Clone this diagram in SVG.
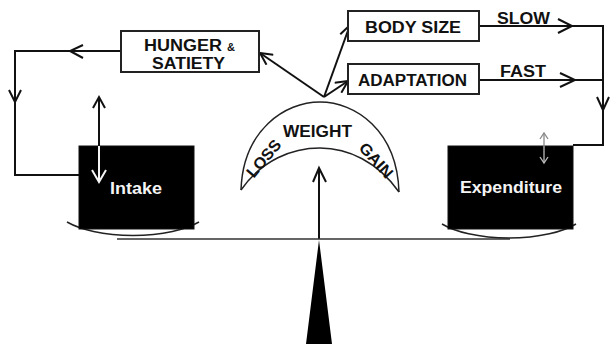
<svg xmlns="http://www.w3.org/2000/svg" width="610" height="344" viewBox="0 0 610 344">
<style>
.ln{fill:none;stroke:#111;stroke-width:2;stroke-linejoin:miter}
.chev{fill:none;stroke:#111;stroke-width:2}
.box{fill:#fff;stroke:#222;stroke-width:2}
.blk{fill:#000;stroke:#111;stroke-width:1}
.lbl{font-family:"Liberation Sans",Arial,sans-serif;font-weight:bold;font-size:16px;fill:#111}
.wt{font-family:"Liberation Sans",Arial,sans-serif;font-weight:bold;font-size:16px;fill:#f4f4f4}
.thin{fill:none;stroke:#222;stroke-width:1.5}
</style>
<defs>
<marker id="ah" viewBox="0 0 14 14" refX="13" refY="7" markerWidth="14" markerHeight="14" markerUnits="userSpaceOnUse" orient="auto">
<path d="M1,1 L13,7 L1,13" fill="none" stroke="#111" stroke-width="2"/>
</marker>
</defs>
<rect width="610" height="344" fill="#fff"/>

<g id="connectors">
<path class="ln" d="M121,51 H15 V175 H79"/>
<path class="chev" d="M83,45 L70,51 L83,58"/>
<path class="chev" d="M9,90 L15,102 L21,90"/>
<path class="ln" d="M324,97 L260,53" marker-end="url(#ah)"/>
<path class="ln" d="M324,97 L350,25" marker-end="url(#ah)"/>
<path class="ln" d="M324,97 L348,81" marker-end="url(#ah)"/>
<path class="ln" d="M479,26 H603 V145 H573"/>
<path class="ln" d="M479,80 H603"/>
<path class="chev" d="M558,19 L572,26 L558,33"/>
<path class="chev" d="M560,73 L575,80 L560,87"/>
<path class="chev" d="M597,97 L603,110 L609,97"/>
<path class="ln" d="M319,239 V169"/>
<path class="chev" d="M313,182 L319,168 L326,182"/>
</g>

<g id="beam">
<path d="M117,239 H510" stroke="#333" stroke-width="1.5" fill="none"/>
<path class="thin" d="M67,222 A80,31 0 0 0 199,222"/>
<path class="thin" d="M442,224 A80,31 0 0 0 576,224"/>
<path d="M319,240 L306,344 L332,344 Z" fill="#000"/>
</g>

<g id="hunger">
<rect class="box" x="121" y="31" width="138" height="41"/>
<text class="lbl" x="144" y="51" textLength="78" lengthAdjust="spacingAndGlyphs">HUNGER</text>
<text class="lbl" x="227" y="51" style="font-size:11px">&amp;</text>
<text class="lbl" x="152" y="69" textLength="73" lengthAdjust="spacingAndGlyphs">SATIETY</text>
</g>

<g id="bodysize">
<rect class="box" x="348" y="11" width="131" height="30"/>
<text class="lbl" x="365" y="33" textLength="96" lengthAdjust="spacingAndGlyphs">BODY SIZE</text>
</g>

<g id="adaptation">
<rect class="box" x="348" y="64" width="131" height="30"/>
<text class="lbl" x="358" y="86" textLength="109" lengthAdjust="spacingAndGlyphs">ADAPTATION</text>
</g>

<g id="slow"><text class="lbl" x="497" y="24" textLength="53" lengthAdjust="spacingAndGlyphs">SLOW</text></g>
<g id="fast"><text class="lbl" x="500" y="77" textLength="46" lengthAdjust="spacingAndGlyphs">FAST</text></g>

<g id="intake">
<rect class="blk" x="79" y="146" width="115" height="83"/>
<path d="M99,97 V146" stroke="#111" stroke-width="2" fill="none"/>
<path class="chev" d="M93,108 L99,97 L105,108"/>
<path d="M99,146 V182" stroke="#f4f4f4" stroke-width="2" fill="none"/>
<path d="M92,170 L99,182 L106,170" stroke="#f4f4f4" stroke-width="2" fill="none"/>
<text class="wt" x="110" y="194" textLength="52" lengthAdjust="spacingAndGlyphs">Intake</text>
</g>

<g id="expenditure">
<rect class="blk" x="448" y="146" width="125" height="83"/>
<path d="M544,133 V146" stroke="#888" stroke-width="1.3" fill="none"/>
<path d="M540,139 L544,133 L548,139" stroke="#888" stroke-width="1.3" fill="none"/>
<path d="M544,146 V163" stroke="#bbb" stroke-width="1.3" fill="none"/>
<path d="M540,157 L544,163 L548,157" stroke="#bbb" stroke-width="1.3" fill="none"/>
<text class="wt" x="460" y="193" textLength="102" lengthAdjust="spacingAndGlyphs">Expenditure</text>
</g>

<g id="weight">
<path class="thin" d="M241,190 C243,130 285,102 320,102 C355,102 397,130 399,192"/>
<path class="thin" d="M241,190 C262,160 292,148 320,148 C348,148 378,162 399,192"/>
<text class="lbl" x="283" y="137" textLength="69" lengthAdjust="spacingAndGlyphs">WEIGHT</text>
<text class="lbl" x="0" y="0" text-anchor="middle" transform="translate(268,162) rotate(-50)" textLength="44" lengthAdjust="spacingAndGlyphs">LOSS</text>
<text class="lbl" x="0" y="0" text-anchor="middle" transform="translate(372,164) rotate(48)" textLength="42" lengthAdjust="spacingAndGlyphs">GAIN</text>
</g>
</svg>
